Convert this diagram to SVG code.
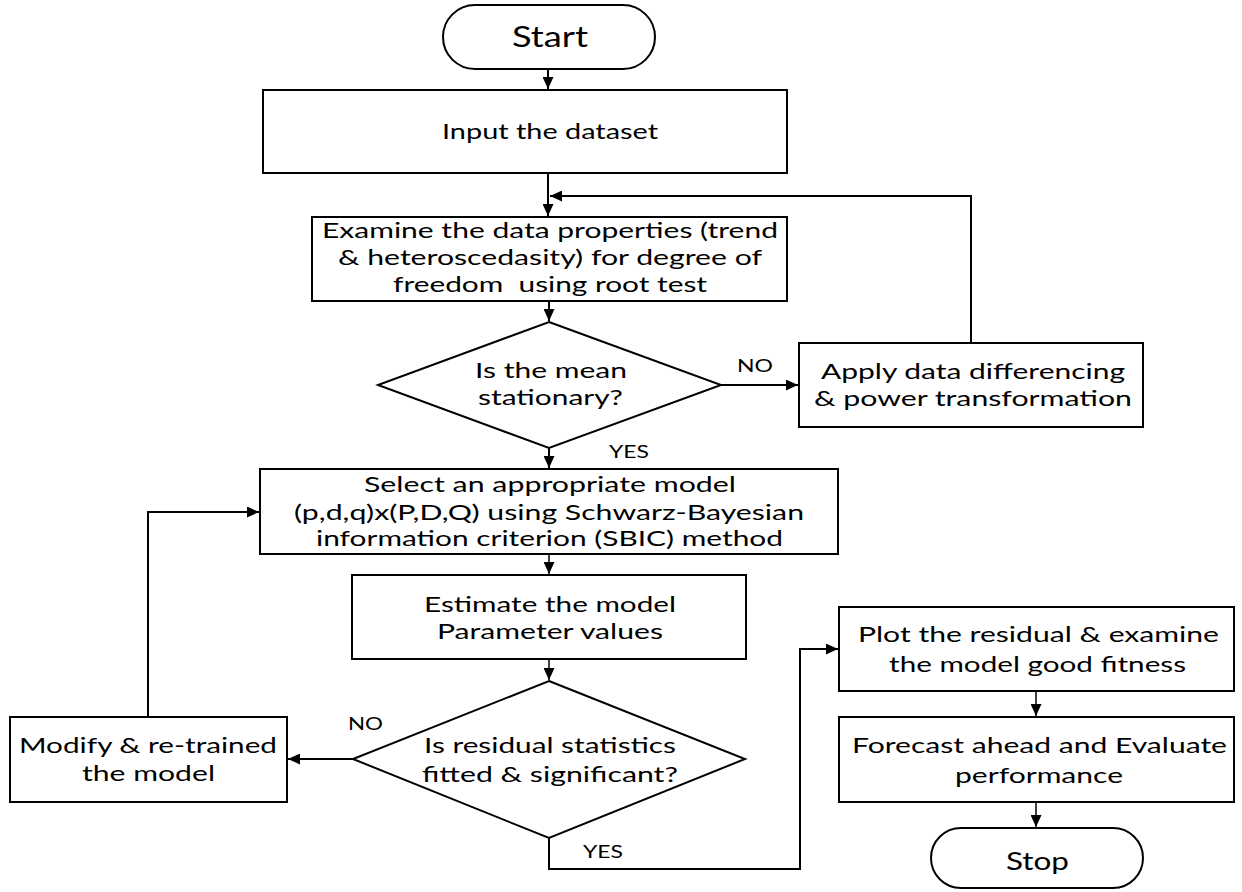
<svg xmlns="http://www.w3.org/2000/svg" width="1242" height="892" viewBox="0 0 1242 892">
<style>
.s{fill:#fff;stroke:#000;stroke-width:2}
.t{font-family:Lato,"Liberation Sans",sans-serif;font-size:22px;fill:#000;white-space:pre}
.big{font-size:29px}
.lab{font-family:Lato,"Liberation Sans",sans-serif;font-size:18px;fill:#000}
.c{fill:none;stroke:#000;stroke-width:2}
.c1{fill:none;stroke:#000;stroke-width:1.5}
</style>
<defs>
<marker id="ah" markerUnits="userSpaceOnUse" markerWidth="13" markerHeight="11" refX="12" refY="5.5" orient="auto">
<path d="M0,0 L12,5.5 L0,11 z" fill="#000"/>
</marker>
</defs>
<rect width="1242" height="892" fill="#fff"/>
<g id="connectors">
<path class="c" d="M548,69 V89" marker-end="url(#ah)"/>
<path class="c" d="M548,173 V216" marker-end="url(#ah)"/>
<path class="c" d="M971,343 V196 H550" marker-end="url(#ah)"/>
<path class="c" d="M549,301 V321" marker-end="url(#ah)"/>
<path class="c" d="M721,385 H798" marker-end="url(#ah)"/>
<path class="c" d="M549,448 V468" marker-end="url(#ah)"/>
<path class="c1" d="M549,554 V574" marker-end="url(#ah)"/>
<path class="c1" d="M549,659 V680" marker-end="url(#ah)"/>
<path class="c" d="M353,759 H288" marker-end="url(#ah)"/>
<path class="c" d="M148,717 V512 H259" marker-end="url(#ah)"/>
<path class="c" d="M549,838 V869 H800 V649 H838" marker-end="url(#ah)"/>
<path class="c1" d="M1036,691 V716" marker-end="url(#ah)"/>
<path class="c1" d="M1036,802 V827" marker-end="url(#ah)"/>
<text class="lab" x="737" y="372" textLength="36" lengthAdjust="spacingAndGlyphs">NO</text>
<text class="lab" x="609" y="458" textLength="40" lengthAdjust="spacingAndGlyphs">YES</text>
<text class="lab" x="348" y="730" textLength="35" lengthAdjust="spacingAndGlyphs">NO</text>
<text class="lab" x="583" y="858" textLength="40" lengthAdjust="spacingAndGlyphs">YES</text>
</g>
<g id="start">
<rect class="s" x="443" y="5" width="212" height="64" rx="32"/>
<text class="t big" x="512" y="47" textLength="76" lengthAdjust="spacingAndGlyphs">Start</text>
</g>
<g id="input">
<rect class="s" x="263" y="90" width="524" height="83"/>
<text class="t" x="442" y="139" textLength="216" lengthAdjust="spacingAndGlyphs">Input the dataset</text>
</g>
<g id="examine">
<rect class="s" x="312" y="217" width="475" height="84"/>
<text class="t" x="322" y="238" textLength="456" lengthAdjust="spacingAndGlyphs">Examine the data properties (trend</text>
<text class="t" x="338" y="265" textLength="424" lengthAdjust="spacingAndGlyphs">&amp; heteroscedasity) for degree of</text>
<text class="t" x="393" y="292" textLength="314" lengthAdjust="spacingAndGlyphs">freedom  using root test</text>
</g>
<g id="decision1">
<polygon class="s" points="549,322 721,385 549,448 378,385"/>
<text class="t" x="475" y="378" textLength="152" lengthAdjust="spacingAndGlyphs">Is the mean</text>
<text class="t" x="478" y="405" textLength="145" lengthAdjust="spacingAndGlyphs">stationary?</text>
</g>
<g id="apply">
<rect class="s" x="799" y="343" width="344" height="84"/>
<text class="t" x="821" y="379" textLength="304" lengthAdjust="spacingAndGlyphs">Apply data differencing</text>
<text class="t" x="814" y="406" textLength="318" lengthAdjust="spacingAndGlyphs">&amp; power transformation</text>
</g>
<g id="select">
<rect class="s" x="260" y="469" width="578" height="85"/>
<text class="t" x="364" y="492" textLength="372" lengthAdjust="spacingAndGlyphs">Select an appropriate model</text>
<text class="t" x="294" y="520" textLength="510" lengthAdjust="spacingAndGlyphs">(p,d,q)x(P,D,Q) using Schwarz-Bayesian</text>
<text class="t" x="316" y="546" textLength="467" lengthAdjust="spacingAndGlyphs">information criterion (SBIC) method</text>
</g>
<g id="estimate">
<rect class="s" x="352" y="575" width="394" height="84"/>
<text class="t" x="424" y="612" textLength="252" lengthAdjust="spacingAndGlyphs">Estimate the model</text>
<text class="t" x="437" y="639" textLength="226" lengthAdjust="spacingAndGlyphs">Parameter values</text>
</g>
<g id="decision2">
<polygon class="s" points="549,681 745,759 549,838 353,759"/>
<text class="t" x="424" y="753" textLength="252" lengthAdjust="spacingAndGlyphs">Is residual statistics</text>
<text class="t" x="422" y="782" textLength="256" lengthAdjust="spacingAndGlyphs">fitted &amp; significant?</text>
</g>
<g id="modify">
<rect class="s" x="10" y="717" width="277" height="85"/>
<text class="t" x="19" y="753" textLength="258" lengthAdjust="spacingAndGlyphs">Modify &amp; re-trained</text>
<text class="t" x="82" y="781" textLength="133" lengthAdjust="spacingAndGlyphs">the model</text>
</g>
<g id="plot">
<rect class="s" x="839" y="607" width="395" height="84"/>
<text class="t" x="858" y="642" textLength="361" lengthAdjust="spacingAndGlyphs">Plot the residual &amp; examine</text>
<text class="t" x="889" y="672" textLength="297" lengthAdjust="spacingAndGlyphs">the model good fitness</text>
</g>
<g id="forecast">
<rect class="s" x="839" y="717" width="395" height="85"/>
<text class="t" x="852" y="753" textLength="375" lengthAdjust="spacingAndGlyphs">Forecast ahead and Evaluate</text>
<text class="t" x="955" y="783" textLength="168" lengthAdjust="spacingAndGlyphs">performance</text>
</g>
<g id="stop">
<rect class="s" x="931" y="828" width="212" height="60" rx="30"/>
<text class="t" x="1006" y="870" style="font-size:25px" textLength="63" lengthAdjust="spacingAndGlyphs">Stop</text>
</g>
</svg>
